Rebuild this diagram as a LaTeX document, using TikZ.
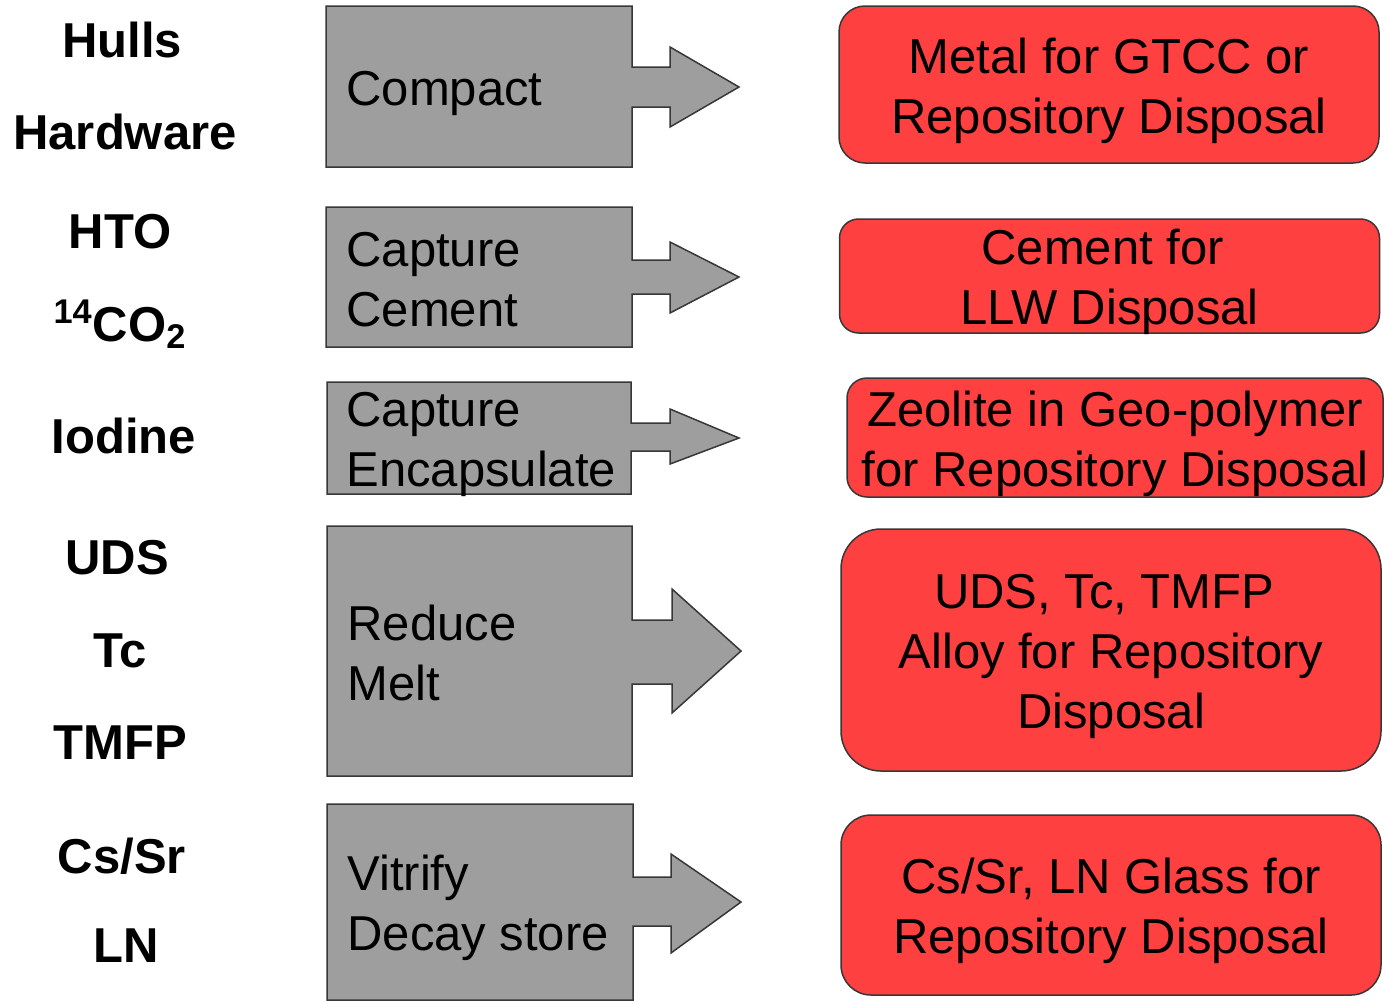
\documentclass[tikz,border=0pt]{standalone}
\usepackage{fontspec}
\setmainfont{Liberation Sans}
\definecolor{boxgray}{RGB}{158,158,158}
\definecolor{boxred}{RGB}{255,64,64}
\definecolor{edgecol}{RGB}{55,55,55}
\begin{document}
\begin{tikzpicture}[x=0.5pt,y=-0.5pt,
  procshape/.style={fill=boxgray, draw=edgecol, line width=0.75pt, line join=miter},
  outbox/.style={fill=boxred, draw=edgecol, line width=0.75pt, inner sep=0pt, minimum width=270pt},
  outtext/.style={align=center, inner sep=0pt, yshift=-3pt, font=\fontsize{24.5}{30}\selectfont},
  waste/.style={font=\bfseries\fontsize{24.5}{30}\selectfont, inner sep=0pt},
  proctext/.style={font=\fontsize{24.5}{30}\selectfont, align=left, anchor=west, inner sep=0pt}]
\useasboundingbox (0,0) rectangle (1384,1002);

% left labels
\node[waste] (hulls) at (122,40) {Hulls};
\node[waste] (hardware) at (125,132) {Hardware};
\node[waste] (hto) at (120,232) {HTO};
\node[waste] (co2) at (120,324) {\textsuperscript{14}CO\textsubscript{2}};
\node[waste] (iodine) at (124,436) {Iodine};
\node[waste] (uds) at (117,558) {UDS};
\node[waste] (tc) at (120,651) {Tc};
\node[waste] (tmfp) at (120,743) {TMFP};
\node[waste] (cssr) at (122,856) {Cs/Sr};
\node[waste] (ln) at (126,946) {LN};

% process shapes (box with attached arrow)
\draw[procshape] (326,6) -- (632,6) -- (632,67) -- (670,67) -- (670,47) -- (739,87)
  -- (670,127) -- (670,107) -- (632,107) -- (632,167) -- (326,167) -- cycle;
\draw[procshape] (326,207) -- (632,207) -- (632,260) -- (670,260) -- (670,242) -- (739,277)
  -- (670,313) -- (670,294) -- (632,294) -- (632,347) -- (326,347) -- cycle;
\draw[procshape] (327,382) -- (631,382) -- (631,423) -- (670,423) -- (670,409) -- (739,438)
  -- (670,464) -- (670,451) -- (631,451) -- (631,494) -- (327,494) -- cycle;
\draw[procshape] (327,526) -- (632,526) -- (632,620) -- (672,620) -- (672,589) -- (741,651)
  -- (672,713) -- (672,684) -- (632,684) -- (632,776) -- (327,776) -- cycle;
\draw[procshape] (327,804) -- (633,804) -- (633,877) -- (671,877) -- (671,854) -- (741,902)
  -- (671,953) -- (671,926) -- (633,926) -- (633,1000) -- (327,1000) -- cycle;

\node[proctext] (p1) at (346,93) {Compact};
\node[proctext] (p2) at (346,280) {Capture\\Cement};
\node[proctext] (p3) at (346,444) {Capture\\Encapsulate};
\node[proctext] (p4) at (347,653) {Reduce\\Melt};
\node[proctext] (p5) at (347,908) {Vitrify\\Decay store};

% outcome boxes
\node[outbox, minimum height=78.5pt, rounded corners=13pt] (o1) at (1109,84.5) {};
\node[outtext] (t1) at (o1.center) {Metal for GTCC or\\Repository Disposal};
\node[outbox, minimum height=57pt, rounded corners=9.5pt] (o2) at (1109.5,276) {};
\node[outtext] (t2) at (o2.center) {Cement for\hspace*{0.278em}\\LLW Disposal};
\node[outbox, minimum height=59.5pt, minimum width=268pt, rounded corners=10pt] (o3) at (1115,437.5) {};
\node[outtext] (t3) at (o3.center) {Zeolite in Geo-polymer\\for Repository Disposal};
\node[outbox, minimum height=121pt, rounded corners=20pt] (o4) at (1111,650) {};
\node[outtext] (t4) at (o4.center) {UDS, Tc, TMFP\hspace*{0.278em}\\Alloy for Repository\hspace*{0.278em}\\Disposal};
\node[outbox, minimum height=90pt, rounded corners=15pt] (o5) at (1111,905) {};
\node[outtext] (t5) at (o5.center) {Cs/Sr, LN Glass for\\Repository Disposal};
\end{tikzpicture}
\end{document}
